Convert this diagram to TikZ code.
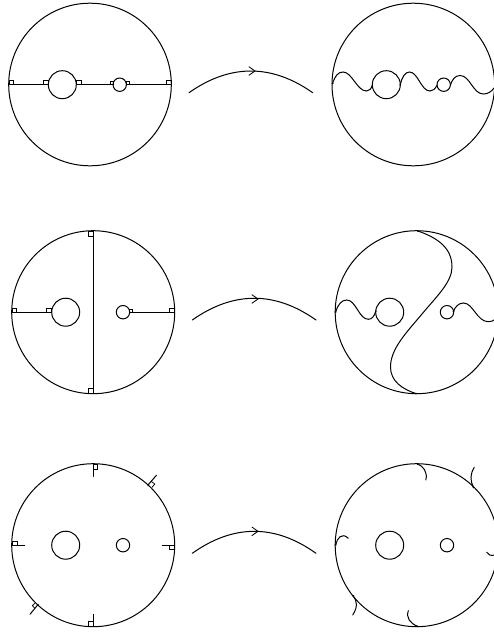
\documentclass[tikz,border=0pt]{standalone}
\tikzset{
  disk/.style={line width=1pt,black},
  curve/.style={line width=1pt,black,line cap=round},
  mark sq/.style={line width=0.75pt,black},
  chevron/.style={line width=0.85pt,black,line cap=round},
  enddot/.style={fill=black,draw=none},
}
\begin{document}
\begin{tikzpicture}[x=1pt,y=-1pt]
\useasboundingbox (0,0) rectangle (494,632);
\clip (0,0) rectangle (494,632);
% ---------- Row 1 left
\draw[disk] (90,84.5) circle[radius=81.3];
\draw[disk] (62.3,84.7) circle[radius=14];
\draw[disk] (119.7,84.7) circle[radius=6.7];
\draw[curve] (8.7,84.7) -- (48.3,84.7) (76.3,84.7) -- (113,84.7) (126.4,84.7) -- (171.3,84.7);
\draw[mark sq] (9,80.5) rectangle (13.5,84.7);
\draw[mark sq] (43.4,80.5) rectangle (48.3,84.7);
\draw[mark sq] (76.5,80.5) rectangle (81.5,84.7);
\draw[mark sq] (110.4,81.8) rectangle (113.2,84.7);
\draw[mark sq] (126.3,81.8) rectangle (129.4,84.7);
\draw[mark sq] (166.4,80.5) rectangle (171,84.7);
% Row 1 arrow
\draw[curve] (189,92.7) .. controls (230,63.8) and (271.7,63.8) .. (312.7,92.7);
\draw[chevron] (249,66.8) -- (255,71) -- (249,75.2);
% Row 1 right
\draw[disk] (413.3,84.5) circle[radius=81.3];
\draw[disk] (386.3,84.7) circle[radius=14];
\draw[disk] (443.7,84.7) circle[radius=6.7];
\draw[curve] (332.6,83.5) .. controls (335,76) and (338,72) .. (343,72) .. controls (352,72) and (357,91) .. (366.5,91) .. controls (369,91) and (371,89) .. (372.4,85.5);
\draw[curve] (400.2,85) .. controls (402,77) and (405,72) .. (409.5,72) .. controls (418,72) and (421,91) .. (430,91) .. controls (433,91) and (435,89) .. (436.9,85.5);
\draw[curve] (450.4,85) .. controls (452,80) and (455,75.5) .. (460,75.5) .. controls (470,75.5) and (473,94) .. (483.3,94) .. controls (488,94) and (491,92) .. (494.5,87.5);
\fill[enddot] (332.6,83.5) circle[radius=1];
\fill[enddot] (372.4,85.5) circle[radius=0.8];
\fill[enddot] (400.2,85) circle[radius=0.8];
% ---------- Row 2 left
\draw[disk] (93.2,312.2) circle[radius=81.5];
\draw[disk] (65.7,312.2) circle[radius=14];
\draw[disk] (123,312.2) circle[radius=6.7];
\draw[curve] (93.3,230.7) -- (93.3,393.7);
\draw[curve] (11.7,312.3) -- (51.7,312.3) (129.7,312.3) -- (174.7,312.3);
\draw[mark sq] (88.4,230.9) rectangle (93.3,236);
\draw[mark sq] (88.4,388.7) rectangle (93.3,393.5);
\draw[mark sq] (12,308.2) rectangle (16.6,312.3);
\draw[mark sq] (46.7,308.2) rectangle (51.7,312.3);
\draw[mark sq] (129.6,309.5) rectangle (132.6,312.3);
\draw[mark sq] (169.5,308.2) rectangle (174.4,312.3);
% Row 2 arrow
\draw[curve] (192.3,320) .. controls (233.5,291) and (275,291) .. (316,320);
\draw[chevron] (252,294.8) -- (258,299) -- (252,303.2);
% Row 2 right
\draw[disk] (416.7,312.2) circle[radius=81.5];
\draw[disk] (389.7,312.2) circle[radius=14];
\draw[disk] (447,312.2) circle[radius=6.7];
\draw[curve] (335.7,312) .. controls (338,304) and (342,300) .. (346.7,300) .. controls (356,300) and (359,319.3) .. (368.3,319.3) .. controls (372,319.3) and (374.5,316) .. (375.8,311);
\draw[curve] (453.5,311.5) .. controls (455,307) and (458.5,303) .. (463.5,303) .. controls (473,303) and (477,321.7) .. (488.3,321.7) .. controls (491,321.7) and (493,321) .. (495,319.5);
\draw[curve] (417.7,230.9) .. controls (438,238) and (452,248) .. (452,267) .. controls (452,282) and (437,296) .. (422,314) .. controls (406,333) and (390.5,349) .. (390.5,367) .. controls (390.5,381) and (402,389) .. (416,393.6);
\fill[enddot] (417.7,230.9) circle[radius=1];
\fill[enddot] (416,393.6) circle[radius=1];
\fill[enddot] (335.7,312) circle[radius=1];
\fill[enddot] (375.8,311) circle[radius=0.8];
\fill[enddot] (453.5,311.5) circle[radius=0.8];
% ---------- Row 3 left
\draw[disk] (93.2,545.2) circle[radius=81.5];
\draw[disk] (65.7,545.2) circle[radius=14];
\draw[disk] (123,545.2) circle[radius=6.7];
\draw[curve] (93.3,464) -- (93.3,476.5);
\draw[curve] (93.3,626.3) -- (93.3,614.3);
\draw[curve] (11.7,545.3) -- (24.7,545.3);
\draw[curve] (174.7,545.3) -- (162.4,545.3);
\draw[curve] (147.8,485.2) -- (156.5,475.2);
\draw[curve] (38.3,604.2) -- (30,614.3);
\draw[mark sq] (93.3,464.2) rectangle (97.6,469);
\draw[mark sq] (88.6,621.6) rectangle (93.3,626.2);
\draw[mark sq] (12,541) rectangle (17,545.3);
\draw[mark sq] (169.8,545.3) rectangle (174.5,549.4);
\draw[mark sq] (151,481.2) -- (154.8,484) -- (151.8,487.5);
\draw[mark sq] (35,608.4) -- (32.4,605.6) -- (35.8,602.3);
% Row 3 arrow
\draw[curve] (192.3,553.3) .. controls (233.5,524) and (275,524) .. (316,553.3);
\draw[chevron] (252,527.1) -- (258,531.3) -- (252,535.5);
% Row 3 right
\draw[disk] (416.7,545.2) circle[radius=81.5];
\draw[disk] (389.7,545.2) circle[radius=14];
\draw[disk] (447,545.2) circle[radius=6.7];
\draw[curve] (417.7,464) .. controls (423,466) and (428,472) .. (425.8,480);
\draw[curve] (473.5,487.3) .. controls (470,481) and (470,474) .. (474.3,467.3);
\draw[curve] (486.7,552.3) .. controls (488,555) and (491,556) .. (495,555);
\draw[curve] (335.7,545) .. controls (337,538) and (342,532) .. (348.3,538.3);
\draw[curve] (353.3,596) .. controls (357,601) and (358,607) .. (352.7,615);
\draw[curve] (417.3,626.3) .. controls (410,623) and (406,618) .. (408.3,610.7);
\fill[enddot] (417.7,464) circle[radius=1];
\fill[enddot] (473.5,487.3) circle[radius=1];
\fill[enddot] (335.7,545) circle[radius=1];
\fill[enddot] (353.3,596) circle[radius=1];
\fill[enddot] (417.3,626.3) circle[radius=1];
\end{tikzpicture}
\end{document}
